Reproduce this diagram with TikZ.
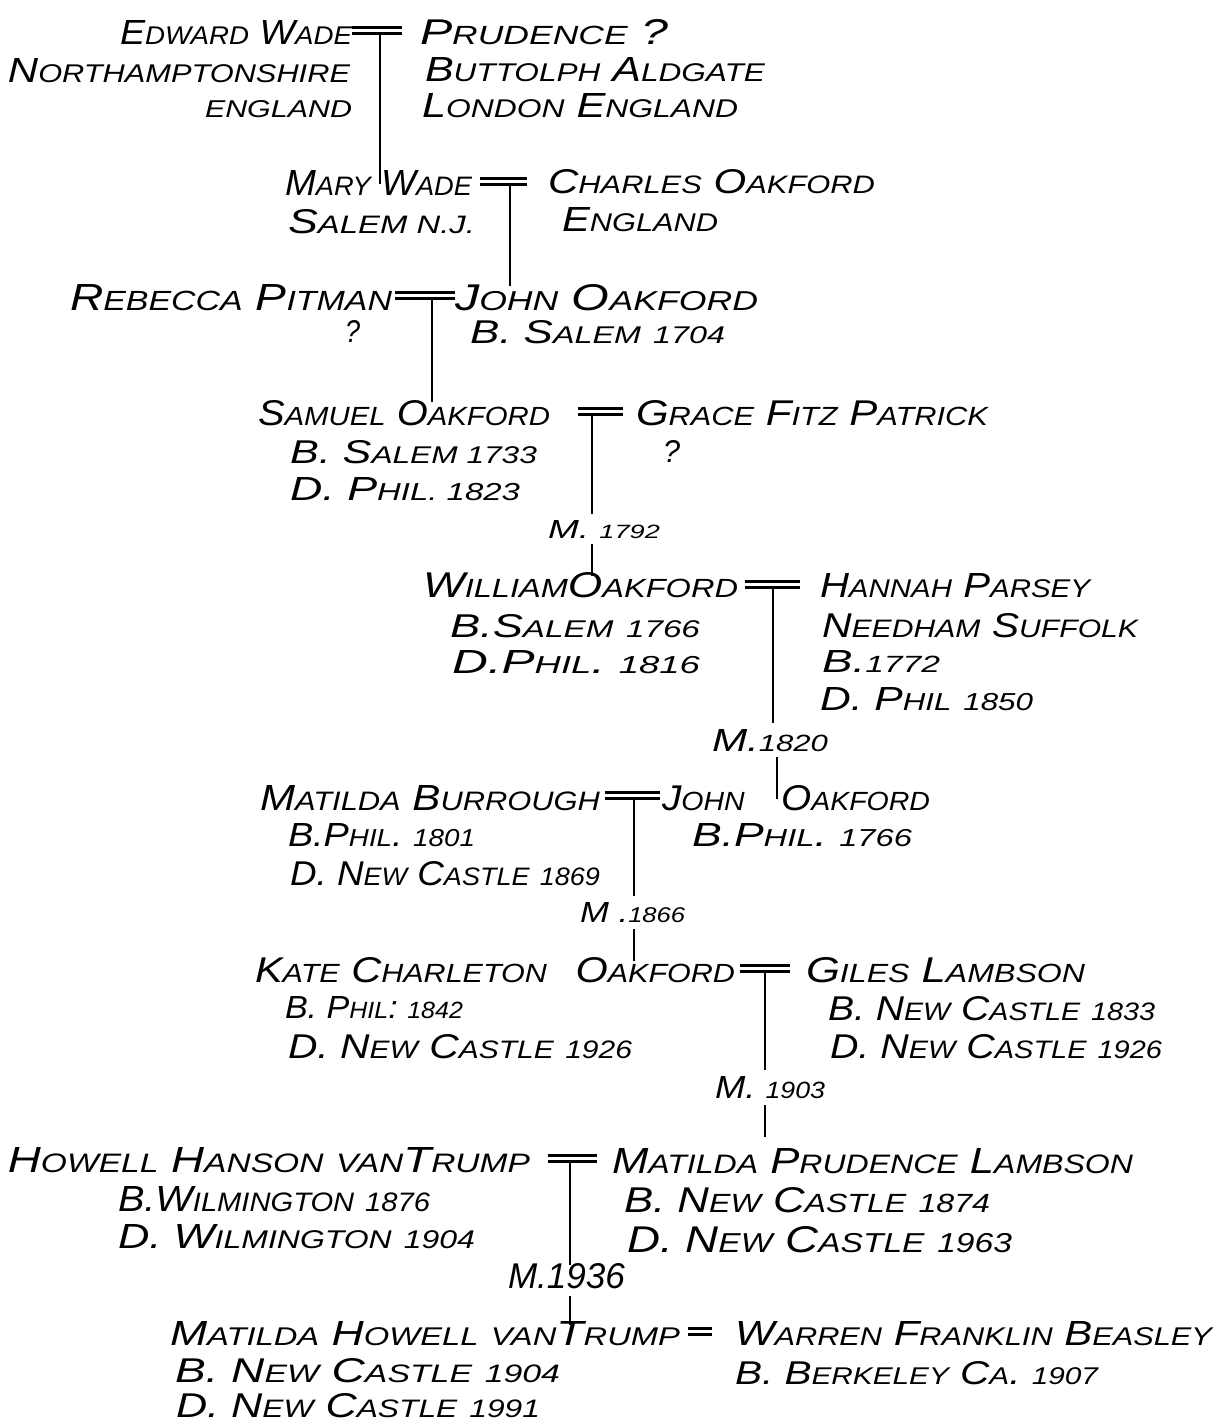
\documentclass[tikz,border=0pt]{standalone}
\usepackage{fontspec}
\setmainfont{Liberation Sans}
\usetikzlibrary{calc}
\newcommand\s[1]{{\fontsize{23.5}{23.5}\selectfont #1}}
\newcommand\T[3]{\resizebox{#1pt}{#2pt}{\fontsize{32}{32}\selectfont\itshape #3}}
\tikzset{
  t/.style={anchor=base west, inner sep=0pt, outer sep=0pt},
  ln/.style={line width=2.2pt},
  dbl/.style={line width=3pt, double distance=3pt}
}
\begin{document}
\begin{tikzpicture}[x=1pt,y=-1pt]
\fill[white] (0,0) rectangle (1231,1424);
\useasboundingbox (0,0) rectangle (1231,1424);

% ---- Row 1
\node[t] (ew)  at (120,45)  {\T{232}{24}{E\s{DWARD} W\s{ADE}}};
\node[t] (pr)  at (420,44)  {\T{248}{25}{P\s{RUDENCE} ?}};
\node[t] (ewp) at (8,82)    {\T{342}{24}{N\s{ORTHAMPTONSHIRE}}};
\node[t] (ewe) at (205,117) {\T{147}{17}{\s{ENGLAND}}};
\node[t] (prp) at (425,81)  {\T{340}{24}{B\s{UTTOLPH} A\s{LDGATE}}};
\node[t] (pre) at (422,117) {\T{316}{24}{L\s{ONDON} E\s{NGLAND}}};
\coordinate (c1) at (380,30);
\draw[dbl] (352,30) coordinate (c1l) -- (402,30) coordinate (c1r);

% ---- Row 2
\node[t] (mw)  at (285,195) {\T{187}{25}{M\s{ARY} W\s{ADE}}};
\node[t] (co)  at (548,193) {\T{327}{24}{C\s{HARLES} O\s{AKFORD}}};
\node[t] (mwp) at (288,233) {\T{187}{24}{S\s{ALEM N.J.}}};
\node[t] (cop) at (562,231) {\T{156}{24}{E\s{NGLAND}}};
\coordinate (c2) at (510,181);
\draw[dbl] (480,181) coordinate (c2l) -- (527,181) coordinate (c2r);

% ---- Row 3
\node[t] (rp)  at (70,310)  {\T{322}{26}{R\s{EBECCA} P\s{ITMAN}}};
\node[t] (jo)  at (455,310) {\T{303}{26}{J\s{OHN} O\s{AKFORD}}};
\node[t] (rpq) at (345,342) {\T{15}{22}{?}};
\node[t] (job) at (470,343) {\T{255}{23}{B. S\s{ALEM} \s{1704}}};
\coordinate (c3) at (432,295);
\draw[dbl] (395,295) coordinate (c3l) -- (455,295) coordinate (c3r);

% ---- Row 4
\node[t] (so)  at (258,425) {\T{292}{25}{S\s{AMUEL} O\s{AKFORD}}};
\node[t] (gf)  at (636,425) {\T{352}{25}{G\s{RACE} F\s{ITZ} P\s{ATRICK}}};
\node[t] (sob) at (290,463) {\T{247}{23}{B. S\s{ALEM 1733}}};
\node[t] (gfq) at (663,462) {\T{17}{22}{?}};
\node[t] (sod) at (290,500) {\T{230}{23}{D. P\s{HIL. 1823}}};
\coordinate (c4) at (592,411);
\draw[dbl] (578,411) coordinate (c4l) -- (623,411) coordinate (c4r);
\node[t] (m4)  at (548,538) {\T{112}{18}{M. \s{1792}}};

% ---- Row 5
\node[t] (wo)  at (423,597) {\T{315}{25}{W\s{ILLIAM}O\s{AKFORD}}};
\node[t] (hp)  at (820,597) {\T{270}{24}{H\s{ANNAH} P\s{ARSEY}}};
\node[t] (wob) at (450,637) {\T{250}{23}{B.S\s{ALEM} \s{1766}}};
\node[t] (wod) at (452,673) {\T{248}{23}{D.P\s{HIL}. \s{1816}}};
\node[t] (hpp) at (822,637) {\T{316}{24}{N\s{EEDHAM} S\s{UFFOLK}}};
\node[t] (hpb) at (822,672) {\T{118}{22}{B.\s{1772}}};
\node[t] (hpd) at (820,710) {\T{213}{23}{D. P\s{HIL} \s{1850}}};
\coordinate (c5) at (773,584);
\draw[dbl] (745,584) coordinate (c5l) -- (800,584) coordinate (c5r);
\node[t] (m5)  at (712,751) {\T{116}{22}{M.\s{1820}}};

% ---- Row 6
\node[t] (mb)   at (260,810) {\T{340}{25}{M\s{ATILDA} B\s{URROUGH}}};
\node[t] (jo2)  at (662,810) {\T{268}{25}{J\s{OHN}\hspace{30pt}O\s{AKFORD}}};
\node[t] (mbb)  at (288,846) {\T{187}{23}{B.P\s{HIL}. \s{1801}}};
\node[t] (jo2b) at (692,846) {\T{220}{23}{B.P\s{HIL}. \s{1766}}};
\node[t] (mbd)  at (290,885) {\T{310}{24}{D. N\s{EW} C\s{ASTLE} \s{1869}}};
\coordinate (c6) at (634,795);
\draw[dbl] (605,795) coordinate (c6l) -- (660,795) coordinate (c6r);
\node[t] (m6)   at (580,922) {\T{105}{20}{M .\s{1866}}};

% ---- Row 7
\node[t] (kc)  at (255,982)  {\T{480}{25}{K\s{ATE} C\s{HARLETON}\hspace{22pt}O\s{AKFORD}}};
\node[t] (gl)  at (806,982)  {\T{279}{25}{G\s{ILES} L\s{AMBSON}}};
\node[t] (kcb) at (285,1018) {\T{178}{22}{B. P\s{HIL}: \s{1842}}};
\node[t] (kcd) at (288,1058) {\T{344}{24}{D. N\s{EW} C\s{ASTLE} \s{1926}}};
\node[t] (glb) at (828,1020) {\T{327}{24}{B. N\s{EW} C\s{ASTLE} \s{1833}}};
\node[t] (gld) at (830,1058) {\T{332}{24}{D. N\s{EW} C\s{ASTLE} \s{1926}}};
\coordinate (c7) at (765,968);
\draw[dbl] (740,968) coordinate (c7l) -- (790,968) coordinate (c7r);
\node[t] (m7)  at (715,1098) {\T{110}{22}{M. \s{1903}}};

% ---- Row 8
\node[t] (hh)  at (8,1172)   {\T{522}{25}{H\s{OWELL} H\s{ANSON} \s{VAN}T\s{RUMP}}};
\node[t] (ml)  at (612,1173) {\T{521}{25}{M\s{ATILDA} P\s{RUDENCE} L\s{AMBSON}}};
\node[t] (hhb) at (118,1211) {\T{312}{25}{B.W\s{ILMINGTON} \s{1876}}};
\node[t] (hhd) at (118,1248) {\T{357}{24}{D. W\s{ILMINGTON} \s{1904}}};
\node[t] (mlb) at (624,1212) {\T{366}{25}{B. N\s{EW} C\s{ASTLE} \s{1874}}};
\node[t] (mld) at (627,1252) {\T{385}{26}{D. N\s{EW} C\s{ASTLE} \s{1963}}};
\coordinate (c8) at (570,1158);
\draw[dbl] (548,1158) coordinate (c8l) -- (597,1158) coordinate (c8r);
\node[t] (m8)  at (508,1288) {\T{117}{25}{M.1936}};

% ---- Row 9
\node[t] (mh)  at (170,1345) {\T{510}{24}{M\s{ATILDA} H\s{OWELL} \s{VAN}T\s{RUMP}}};
\node[t] (wf)  at (735,1345) {\T{477}{24}{W\s{ARREN} F\s{RANKLIN} B\s{EASLEY}}};
\node[t] (mhb) at (175,1382) {\T{385}{24}{B. N\s{EW} C\s{ASTLE} \s{1904}}};
\node[t] (mhd) at (176,1417) {\T{364}{24}{D. N\s{EW} C\s{ASTLE} \s{1991}}};
\node[t] (wfb) at (735,1384) {\T{363}{23}{B. B\s{ERKELEY} C\s{A}. \s{1907}}};
\draw[dbl] (688,1331) coordinate (c9l) -- (712,1331) coordinate (c9r);

% ---- Descent lines
\draw[ln] ($(c1)+(0,3)$) -- ($(c1 |- mw.north)+(0,14)$);
\draw[ln] ($(c2)+(0,3)$) -- ($(c2 |- jo.north)+(0,2)$);
\draw[ln] ($(c3)+(0,3)$) -- ($(c3 |- so.north)+(0,2)$);
\draw[ln] ($(c4)+(0,3)$) -- ($(c4 |- m4.north)+(0,-6)$);
\draw[ln] ($(c4 |- m4.south)+(0,6)$) -- ($(c4 |- wo.north)+(0,4)$);
\draw[ln] ($(c5)+(0,3)$) -- ($(c5 |- m5.north)+(0,-6)$);
\draw[ln] ($(c5 |- m5.south)+(4,6)$) -- ($(c5 |- jo2.north)+(4,14)$);
\draw[ln] ($(c6)+(0,3)$) -- ($(c6 |- m6.north)+(0,-6)$);
\draw[ln] ($(c6 |- m6.south)+(0,7)$) -- ($(c6 |- kc.north)+(0,4)$);
\draw[ln] ($(c7)+(0,3)$) -- ($(c7 |- m7.north)+(0,-6)$);
\draw[ln] ($(c7 |- m7.south)+(0,7)$) -- ($(c7 |- hh.north)+(0,-10)$);
\draw[ln] ($(c8)+(0,3)$) -- ($(c8 |- m8.north)+(0,2)$);
\draw[ln] ($(c8 |- m8.south)+(0,8)$) -- ($(c8 |- mh.north)+(0,4)$);
\end{tikzpicture}
\end{document}
